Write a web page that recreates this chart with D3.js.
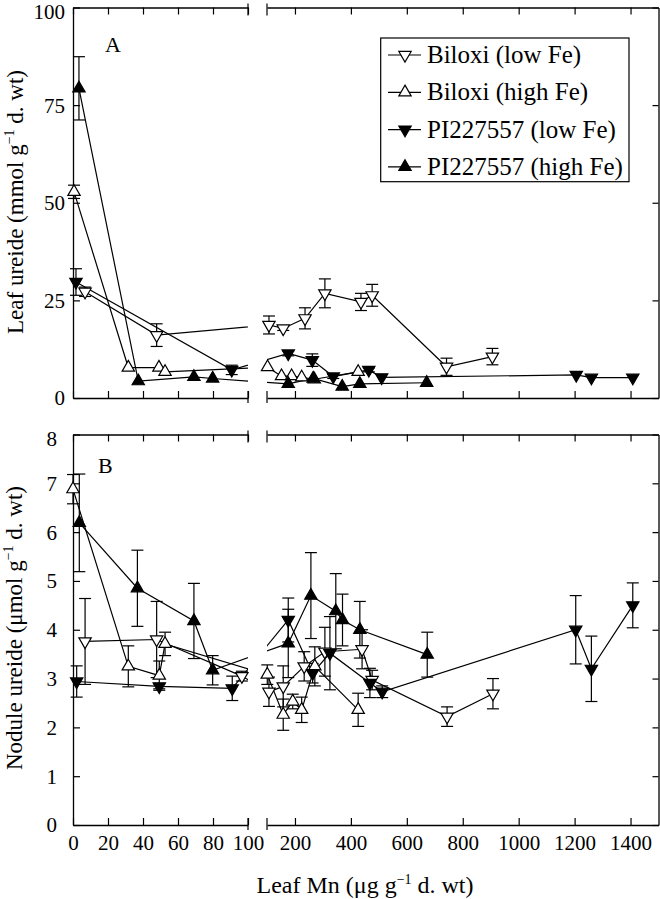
<!DOCTYPE html>
<html><head><meta charset="utf-8">
<script src="https://cdn.jsdelivr.net/npm/d3@7"></script>
<style>
body{margin:0;background:#fff;}
svg{display:block;}
svg text{font-family:"Liberation Serif","Tinos","DejaVu Serif","Noto Serif",serif !important;fill:#000;}
</style></head><body>
<svg id="chart" width="660" height="899"></svg>
<script>
// ---------- data: [Leaf Mn (µg/g), value, error] ----------
const seriesNames = ["Biloxi (low Fe)", "Biloxi (high Fe)", "PI227557 (low Fe)", "PI227557 (high Fe)"];

// Panel A: leaf ureide (mmol/g)
const leafBiloxiLow  = [[6.9,27.2,1.2],[47.8,16.1,2.9],[107,18.7,2.3],[158,17.8,0.5],[236,20.4,2.7],[307,26.8,3.7],[436,24.6,2.2],[476,26.3,2.8],[742,8.0,2.2],[906,10.6,2.1]];
const leafBiloxiHigh = [[0.6,52.8,1.7],[31.6,7.8,0],[49.1,7.8,0],[52.6,6.7,0],[102,7.9,0],[152,5.6,0],[188,5.6,0],[224,5.3,0],[269,4.8,0],[426,6.7,0]];
const leafPILow      = [[1.7,29.7,3.4],[90.7,7.2,1.2],[176,11.4,0.6],[262,9.7,1.6],[337,5.5,0.5],[464,7.2,0.5],[510,5.3,0],[1206,5.9,0],[1260,5.2,0],[1408,5.2,0]];
const leafPIHigh     = [[3.4,79.3,8.1],[37.3,4.3,0],[69.1,5.4,0],[79.8,5.0,0],[176,3.6,0],[265,5.0,0],[369,2.9,0],[432,3.6,0],[671,3.9,0]];

// Panel B: nodule ureide (µmol/g)
const nodBiloxiLow  = [[6.9,3.76,0.88],[47.8,3.8,0.78],[96.5,3.05,0.1],[107,2.73,0.3],[158,2.84,0.42],[233,3.25,0.3],[307,3.55,0.5],[440,3.6,0.4],[476,2.97,0.2],[744,2.22,0.2],[908,2.69,0.31]];
const nodBiloxiHigh = [[0,6.88,0.3],[31.6,3.25,0.42],[49.3,3.06,0.3],[52.6,3.71,0.24],[101,3.08,0.2],[158,2.26,0.32],[192,2.53,0.15],[224,2.36,0.26],[271,3.25,0.4],[426,2.36,0.34]];
const nodPILow      = [[2.1,2.94,0.32],[49.3,2.84,0.05],[91,2.8,0.25],[176,4.2,0.45],[263,3.11,0.2],[325,3.52,0.75],[468,2.91,0.3],[512,2.73,0.12],[1204,4.0,0.7],[1260,3.2,0.67],[1408,4.5,0.46]];
const nodPIHigh     = [[3.6,6.19,1.0],[36.8,4.85,0.78],[69.1,4.18,0.77],[79.8,3.17,0.3],[176,3.72,0.7],[257,4.7,0.88],[346,4.38,0.77],[370,4.2,0.53],[432,4.0,0.58],[673,3.49,0.46]];

const leafTicks   = [0,25,50,75,100];
const noduleTicks = [0,1,2,3,4,5,6,7,8];
const xTicksLeft  = [0,20,40,60,80,100];
const xTicksRight = [200,400,600,800,1000,1200,1400];

// ---------- styles ----------
const seriesFill   = ["#fff","#fff","#000","#000"];
const seriesRotate = [180,0,180,0];
const FONT = '"Liberation Serif","Tinos","DejaVu Serif","Noto Serif",serif';

const svg = d3.select("#chart");
const defs = svg.append("defs");
const X0 = 73, XBL = 248, XBR = 267, X1 = 658.5;
const xL = d3.scaleLinear().domain([0,100]).range([X0,XBL]);
const xR = d3.scaleLinear().domain([100,1500]).range([XBR,X1]);
const xPos = v => v <= 100 ? xL(v) : xR(v);
const LW = 1.2;
const sym = d3.symbol().type(d3.symbolTriangle).size(66);

const panels = [
  {top:7.5, bottom:398, domain:[0,100], ticks:leafTicks, label:"A", lx:105, ly:52,
   data:[leafBiloxiLow, leafBiloxiHigh, leafPILow, leafPIHigh], pad:8, xLabels:false},
  {top:434.5, bottom:825, domain:[0,8], ticks:noduleTicks, label:"B", lx:98, ly:473,
   data:[nodBiloxiLow, nodBiloxiHigh, nodPILow, nodPIHigh], pad:16, xLabels:true}
];

function styleAxis(g, fontSize){
  g.attr("font-family",FONT);
  g.selectAll(".domain").attr("stroke","#000").attr("stroke-width",1.3);
  g.selectAll(".tick line").attr("stroke","#000").attr("stroke-width",LW);
  g.selectAll("text").attr("font-size",fontSize).attr("font-family",FONT).attr("fill","#000");
}

panels.forEach((p,pi)=>{
  const y = d3.scaleLinear().domain(p.domain).range([p.bottom,p.top]);
  const g = svg.append("g");
  const clipId = "clip"+pi;
  const cp = defs.append("clipPath").attr("id",clipId);
  cp.append("rect").attr("x",X0-20).attr("y",p.top-30).attr("width",XBL-X0+20).attr("height",p.bottom-p.top+60);
  cp.append("rect").attr("x",XBR).attr("y",p.top-30).attr("width",X1-XBR+20).attr("height",p.bottom-p.top+60);

  const fmtX = p.xLabels ? d3.format("d") : () => "";
  const bl = g.append("g").attr("transform",`translate(0,${p.bottom})`)
    .call(d3.axisBottom(xL).tickValues(xTicksLeft).tickSizeInner(-7).tickSizeOuter(0).tickPadding(10).tickFormat(fmtX));
  const br = g.append("g").attr("transform",`translate(0,${p.bottom})`)
    .call(d3.axisBottom(xR).tickValues(xTicksRight).tickSizeInner(-7).tickSizeOuter(0).tickPadding(10).tickFormat(fmtX));
  const tl = g.append("g").attr("transform",`translate(0,${p.top})`)
    .call(d3.axisTop(xL).tickValues(xTicksLeft).tickSizeInner(-7).tickSizeOuter(0).tickFormat(""));
  const tr = g.append("g").attr("transform",`translate(0,${p.top})`)
    .call(d3.axisTop(xR).tickValues(xTicksRight).tickSizeInner(-7).tickSizeOuter(0).tickFormat(""));
  const la = g.append("g").attr("transform",`translate(${X0},0)`)
    .call(d3.axisLeft(y).tickValues(p.ticks).tickSizeInner(-7).tickSizeOuter(0).tickPadding(p.pad).tickFormat(d3.format("d")));
  const ra = g.append("g").attr("transform",`translate(${X1},0)`)
    .call(d3.axisRight(y).tickValues(p.ticks).tickSizeInner(-6).tickSizeOuter(0).tickFormat(""));
  [bl,br,tl,tr,la,ra].forEach(a=>styleAxis(a,21));
  la.selectAll("text").attr("dy","0.33em");
  la.selectAll(".tick").filter(d=>d===p.domain[1]).select("text").attr("dy","0.5em");
  [xL(100), xR(100)].forEach(xx=>{
    g.append("line").attr("x1",xx).attr("x2",xx).attr("y1",p.top-4).attr("y2",p.top+8).attr("stroke","#000").attr("stroke-width",LW);
    g.append("line").attr("x1",xx).attr("x2",xx).attr("y1",p.bottom-7).attr("y2",p.bottom+5).attr("stroke","#000").attr("stroke-width",LW);
  });

  g.append("text").attr("x",p.lx).attr("y",p.ly).attr("font-size",22).attr("font-family",FONT).text(p.label);

  const line = d3.line().x(d=>xPos(d[0])).y(d=>y(d[1]));
  p.data.forEach(ser=>{
    g.append("path").attr("d",line(ser)).attr("fill","none").attr("stroke","#000")
      .attr("stroke-width",LW).attr("clip-path",`url(#${clipId})`);
  });
  p.data.forEach(ser=>{
    ser.filter(d=>d[2]>0).forEach(d=>{
      const cx = xPos(d[0]), y1 = y(d[1]+d[2]), y2 = y(d[1]-d[2]);
      g.append("line").attr("x1",cx).attr("x2",cx).attr("y1",y1).attr("y2",y2).attr("stroke","#000").attr("stroke-width",LW);
      [y1,y2].forEach(yy=>g.append("line").attr("x1",cx-6).attr("x2",cx+6).attr("y1",yy).attr("y2",yy).attr("stroke","#000").attr("stroke-width",LW));
    });
  });
  p.data.forEach((ser,si)=>{
    g.selectAll(null).data(ser).enter().append("path")
      .attr("d",sym)
      .attr("transform",d=>`translate(${xPos(d[0])},${y(d[1])}) rotate(${seriesRotate[si]})`)
      .attr("fill",seriesFill[si]).attr("stroke","#000").attr("stroke-width",LW);
  });
});

// legend
const lg = svg.append("g");
lg.append("rect").attr("x",380.7).attr("y",38).attr("width",248.3).attr("height",143.7)
  .attr("fill","#fff").attr("stroke","#000").attr("stroke-width",LW);
seriesNames.forEach((name,i)=>{
  const by = 63 + i*37.3;
  lg.append("line").attr("x1",388).attr("x2",421).attr("y1",by-8).attr("y2",by-8).attr("stroke","#000").attr("stroke-width",LW);
  lg.append("path").attr("d",sym).attr("transform",`translate(405,${by-8}) rotate(${seriesRotate[i]})`)
    .attr("fill",seriesFill[i]).attr("stroke","#000").attr("stroke-width",LW);
  lg.append("text").attr("x",427).attr("y",by).attr("font-size",25).attr("font-family",FONT).text(name);
});

function titleWithSup(t, before, after){
  t.append("tspan").text(before);
  t.append("tspan").attr("font-size",14).attr("dy",-9).text("\u22121");
  t.append("tspan").attr("dy",9).text(after);
}
const tA = svg.append("text").attr("transform","translate(23,202) rotate(-90)").attr("text-anchor","middle").attr("font-size",23).attr("font-family",FONT);
titleWithSup(tA,"Leaf ureide (mmol g"," d. wt)");
const tB = svg.append("text").attr("transform","translate(22,628) rotate(-90)").attr("text-anchor","middle").attr("font-size",23).attr("font-family",FONT);
titleWithSup(tB,"Nodule ureide (\u03bcmol g"," d. wt)");
const tX = svg.append("text").attr("x",365).attr("y",893).attr("text-anchor","middle").attr("font-size",24).attr("font-family",FONT);
titleWithSup(tX,"Leaf Mn (\u03bcg g"," d. wt)");
</script>
</body></html>
